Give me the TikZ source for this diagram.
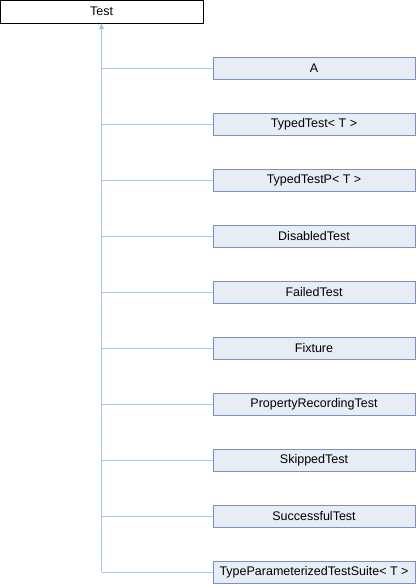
\documentclass[tikz,border=0pt]{standalone}
\usepackage{fontspec}
\setmainfont{Liberation Sans}
\usetikzlibrary{arrows.meta}
\definecolor{boxfill}{RGB}{232,236,245}
\definecolor{boxline}{RGB}{120,144,198}
\definecolor{edgeline}{RGB}{158,202,228}
\tikzset{
  baseclass/.style={draw=black, fill=white, minimum width=203pt, minimum height=23pt, inner sep=0pt, font=\fontsize{12.5}{14}\selectfont},
  derived/.style={draw=boxline, fill=boxfill, minimum width=202pt, minimum height=22pt, inner sep=0pt, font=\fontsize{12.5}{14}\selectfont},
  inherit/.style={draw=edgeline, line width=0.9pt}
}
\begin{document}
\begin{tikzpicture}[x=1pt,y=1pt,yscale=-1,xscale=1]
\useasboundingbox (0,0) rectangle (416,584);

%Shape: Rectangle [id:base]
\node[baseclass] (test) at (101.5,11.5) {Test};

%Shape: Rectangle [id:derived]
\node[derived] (a) at (314,68) {A};
\node[derived] (typedtest) at (314,124) {TypedTest< T >};
\node[derived] (typedtestp) at (314,180) {TypedTestP< T >};
\node[derived] (disabledtest) at (314,236) {DisabledTest};
\node[derived] (failedtest) at (314,292) {FailedTest};
\node[derived] (fixture) at (314,348) {Fixture};
\node[derived] (propertyrecordingtest) at (314,404) {PropertyRecordingTest};
\node[derived] (skippedtest) at (314,460) {SkippedTest};
\node[derived] (successfultest) at (314,516) {SuccessfulTest};
\node[derived] (typeparameterizedtestsuite) at (314,572) {TypeParameterizedTestSuite< T >};

%Straight Lines [id:trunk]
\coordinate (trunkend) at (test.south |- typeparameterizedtestsuite.west);
\draw[inherit, -{Triangle[width=5pt, length=6pt]}] (trunkend) -- (test.south);

%Straight Lines [id:branches]
\draw[inherit] (test.south |- a.west) -- (a.west);
\draw[inherit] (test.south |- typedtest.west) -- (typedtest.west);
\draw[inherit] (test.south |- typedtestp.west) -- (typedtestp.west);
\draw[inherit] (test.south |- disabledtest.west) -- (disabledtest.west);
\draw[inherit] (test.south |- failedtest.west) -- (failedtest.west);
\draw[inherit] (test.south |- fixture.west) -- (fixture.west);
\draw[inherit] (test.south |- propertyrecordingtest.west) -- (propertyrecordingtest.west);
\draw[inherit] (test.south |- skippedtest.west) -- (skippedtest.west);
\draw[inherit] (test.south |- successfultest.west) -- (successfultest.west);
\draw[inherit] (trunkend) -- (typeparameterizedtestsuite.west);

\end{tikzpicture}
\end{document}
